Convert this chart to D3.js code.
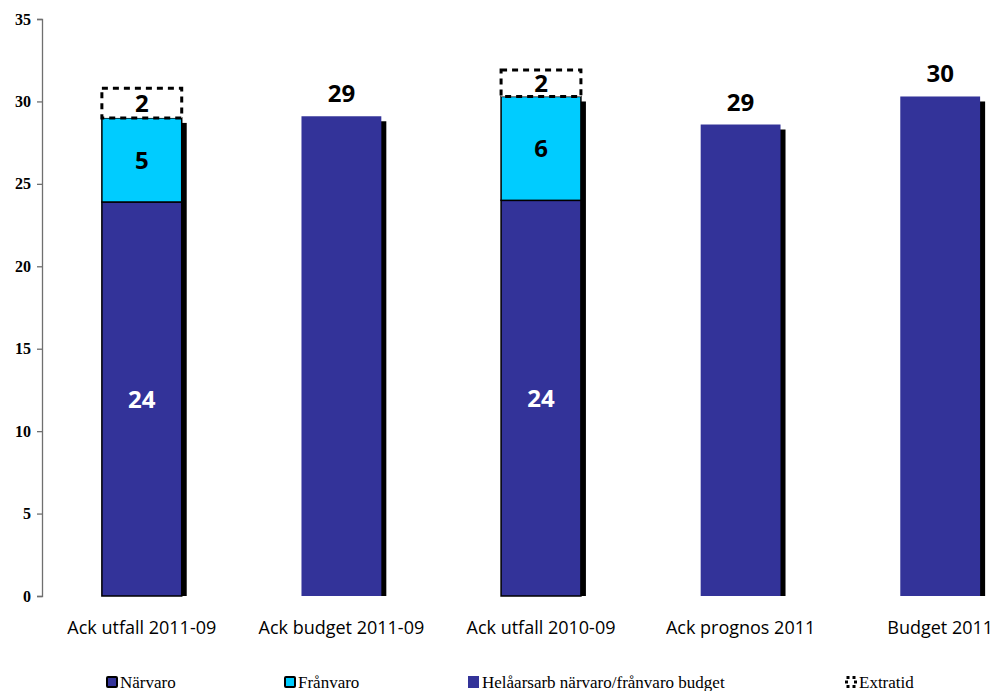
<!DOCTYPE html>
<html>
<head>
<meta charset="utf-8">
<script src="https://cdn.jsdelivr.net/npm/d3@7"></script>
<style>
  body { margin: 0; background: #fff; }
  svg { display: block; }
</style>
</head>
<body>
<script>
const categories = ['Ack utfall 2011-09', 'Ack budget 2011-09', 'Ack utfall 2010-09', 'Ack prognos 2011', 'Budget 2011']
const narvaro = [23.9, null, 24.0, null, null]
const franvaro = [5.1, null, 6.3, null, null]
const extratid = [1.8, null, 1.6, null, null]
const budget = [null, 29.1, null, 28.6, 30.3]
const yTicks = [0, 5, 10, 15, 20, 25, 30, 35]
const legendItems = ['Närvaro', 'Frånvaro', 'Helåarsarb närvaro/frånvaro budget', 'Extratid']

const width = 996, height = 691
const navy = '#333399', cyan = '#00ccff'
const svg = d3.select('body').append('svg').attr('width', width).attr('height', height)

const x = d3.scaleBand().domain(categories).range([42, 1040]).paddingInner(0.6).paddingOuter(0.3)
const y = d3.scaleLinear().domain([0, 35]).range([596, 19])
const label = d => Math.round(d)

// y axis
const yAxis = svg.append('g').attr('transform', 'translate(42,0)')
  .call(d3.axisLeft(y).tickValues(yTicks).tickSize(5).tickPadding(6))
yAxis.selectAll('path, line').attr('stroke', '#6f6f6f').attr('stroke-width', 1.3)
yAxis.selectAll('text')
  .attr('font-family', 'Liberation Serif').attr('font-weight', 'bold').attr('font-size', 16).attr('fill', '#000')

const g = svg.append('g')

categories.forEach((c, i) => {
  const x0 = x(c), w = x.bandwidth()
  const cg = g.append('g')
  if (budget[i] != null) {
    cg.append('rect').attr('x', x0 + 5).attr('y', y(budget[i]) + 5).attr('width', w).attr('height', y(0) - y(budget[i]) - 5).attr('fill', '#000')
    cg.append('rect').attr('x', x0).attr('y', y(budget[i])).attr('width', w).attr('height', y(0) - y(budget[i])).attr('fill', navy)
    cg.append('text').attr('x', x0 + w / 2).attr('y', y(budget[i]) - 14)
      .attr('text-anchor', 'middle').attr('font-family', 'Open Sans').attr('font-weight', 'bold').attr('font-size', 24)
      .text(label(budget[i]))
  } else {
    const top1 = narvaro[i], top2 = narvaro[i] + franvaro[i], top3 = top2 + extratid[i]
    cg.append('rect').attr('x', x0 + 5).attr('y', y(top2) + 5).attr('width', w).attr('height', y(0) - y(top2) - 5).attr('fill', '#000')
    cg.append('rect').attr('x', x0).attr('y', y(top1)).attr('width', w).attr('height', y(0) - y(top1))
      .attr('fill', navy).attr('stroke', '#000').attr('stroke-width', 1.5)
    cg.append('rect').attr('x', x0).attr('y', y(top2)).attr('width', w).attr('height', y(top1) - y(top2))
      .attr('fill', cyan).attr('stroke', '#000').attr('stroke-width', 1.5)
    cg.append('rect').attr('x', x0).attr('y', y(top3)).attr('width', w).attr('height', y(top2) - y(top3))
      .attr('fill', '#fff').attr('stroke', '#000').attr('stroke-width', 3).attr('stroke-dasharray', '6,5')
    const lab = (v, lo, hi, col) => cg.append('text').attr('x', x0 + w / 2).attr('y', (y(lo) + y(hi)) / 2)
      .attr('dy', '0.36em').attr('text-anchor', 'middle').attr('font-family', 'Open Sans').attr('font-weight', 'bold')
      .attr('font-size', 24).attr('fill', col).text(label(v))
    lab(narvaro[i], 0, top1, '#fff')
    lab(franvaro[i], top1, top2, '#000')
    lab(extratid[i], top2, top3, '#000')
  }
})

// category labels
g.selectAll('text.cat').data(categories).join('text').attr('class', 'cat')
  .attr('x', d => x(d) + x.bandwidth() / 2).attr('y', 634)
  .attr('text-anchor', 'middle').attr('font-family', 'Open Sans').attr('font-size', 18).attr('fill', '#000')
  .text(d => d)

// legend
const legendX = [106, 284, 468, 845]
const lg = svg.append('g')
legendItems.forEach((t, i) => {
  const lx = legendX[i], ly = 676
  if (i === 0 || i === 1) {
    lg.append('rect').attr('x', lx + 1).attr('y', ly + 1).attr('width', 10).attr('height', 10)
      .attr('fill', i === 0 ? navy : cyan).attr('stroke', '#000').attr('stroke-width', 2).attr('rx', 1)
  } else if (i === 2) {
    lg.append('rect').attr('x', lx).attr('y', ly).attr('width', 11).attr('height', 12).attr('fill', navy)
  } else {
    lg.append('rect').attr('x', lx + 1.5).attr('y', ly + 1.5).attr('width', 9).attr('height', 9)
      .attr('fill', '#fff').attr('stroke', '#000').attr('stroke-width', 3).attr('stroke-dasharray', '3,3')
  }
  lg.append('text').attr('x', lx + 14).attr('y', ly + 12)
    .attr('font-family', 'Liberation Serif').attr('font-size', 17).attr('fill', '#000').text(t)
})
</script>
</body>
</html>
